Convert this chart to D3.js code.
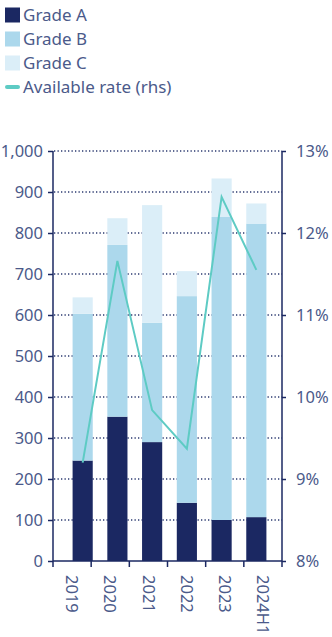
<!DOCTYPE html>
<html>
<head>
<meta charset="utf-8">
<script src="https://cdn.jsdelivr.net/npm/d3@7"></script>
<style>
  body { margin: 0; background: #fff; }
  svg text { font-family: "Noto Sans", sans-serif; fill: #4b5a8a; }
</style>
</head>
<body>
<div id="chart"></div>
<script>
// data
var periods = ["2019", "2020", "2021", "2022", "2023", "2024H1"];
var gradeA = [245, 352, 290, 142, 100, 107];
var gradeB = [358, 419, 291, 504, 739, 716];
var gradeC = [40, 65, 287, 61, 94, 49];
var availableRate = [9.2, 11.66, 9.84, 9.37, 12.44, 11.55];
var leftTicks = [0, 100, 200, 300, 400, 500, 600, 700, 800, 900, 1000];
var rightTicks = [8, 9, 10, 11, 12, 13];

var colors = {A: "#1b2862", B: "#acd8ec", C: "#dbeef8", line: "#5ecbc4", axis: "#1b2862"};

var svg = d3.select("#chart").append("svg").attr("width", 332).attr("height", 637);

var plotLeft = 53, plotRight = 282, plotTop = 151, plotBottom = 561;

var y = d3.scaleLinear().domain([0, 1000]).range([plotBottom, plotTop]);
var yR = d3.scaleLinear().domain([8, 13]).range([plotBottom, plotTop]);
var xAxisScale = d3.scaleBand().domain(periods).range([plotLeft, plotRight]);
var x = d3.scaleBand().domain(periods).range([58, 281]).padding(0.42);

// gridlines
svg.append("g").selectAll("line").data(leftTicks.filter(d => d > 0)).enter().append("line")
    .attr("x1", plotLeft + 1).attr("x2", plotRight).attr("y1", d => y(d)).attr("y2", d => y(d))
    .attr("stroke", "#2b3a70").attr("stroke-width", 1.3).attr("stroke-dasharray", "1.3,2.2");

// stacked bars
var stacked = periods.map((p, i) => ({p: p, A: gradeA[i], B: gradeB[i], C: gradeC[i]}));
var series = d3.stack().keys(["A", "B", "C"])(stacked);
svg.append("g").selectAll("g").data(series).enter().append("g")
    .attr("fill", s => colors[s.key])
    .selectAll("rect").data(s => s).enter().append("rect")
    .attr("x", d => x(d.data.p)).attr("width", x.bandwidth())
    .attr("y", d => y(d[1])).attr("height", d => y(d[0]) - y(d[1]));

// rate line
var line = d3.line().x((d, i) => x(periods[i]) + x.bandwidth() / 2).y(d => yR(d));
svg.append("path").datum(availableRate).attr("d", line)
    .attr("fill", "none").attr("stroke", colors.line).attr("stroke-width", 2).attr("stroke-linejoin", "miter");

// left axis
var gl = svg.append("g").attr("transform", `translate(${plotLeft},0)`)
    .call(d3.axisLeft(y).tickValues(leftTicks).tickFormat(d3.format(",")).tickSize(5).tickPadding(5));
// right axis
var gr = svg.append("g").attr("transform", `translate(${plotRight},0)`)
    .call(d3.axisRight(yR).tickValues(rightTicks).tickFormat(d => d + "%").tickSize(4).tickPadding(10));
[gl, gr].forEach(g => {
    g.select(".domain").attr("stroke", colors.axis).attr("stroke-width", 1.5)
        .attr("d", `M0,${plotTop}V${plotBottom + 6}`);
    g.selectAll(".tick line").attr("stroke", colors.axis).attr("stroke-width", 1.5);
    g.selectAll(".tick text").style("font-size", "16.5px").attr("fill", "#4b5a8a");
});

// bottom axis
var gb = svg.append("g");
gb.append("line").attr("x1", plotLeft).attr("x2", plotRight).attr("y1", plotBottom).attr("y2", plotBottom)
    .attr("stroke", colors.axis).attr("stroke-width", 1.5);
gb.selectAll(".tk").data(periods.slice(1)).enter().append("line")
    .attr("x1", d => xAxisScale(d)).attr("x2", d => xAxisScale(d))
    .attr("y1", plotBottom).attr("y2", plotBottom + 6)
    .attr("stroke", colors.axis).attr("stroke-width", 1.5);
gb.selectAll("text").data(periods).enter().append("text")
    .attr("transform", d => `translate(${xAxisScale(d) + xAxisScale.bandwidth() / 2},575) rotate(90)`)
    .attr("dy", "0.35em").attr("text-anchor", "start").style("font-size", "16.5px")
    .text(d => d);

// legend
var legendItems = [
    {label: "Grade A", color: colors.A, type: "box"},
    {label: "Grade B", color: colors.B, type: "box"},
    {label: "Grade C", color: colors.C, type: "box"},
    {label: "Available rate (rhs)", color: colors.line, type: "line"}
];
var lg = svg.append("g").selectAll("g").data(legendItems).enter().append("g")
    .attr("transform", (d, i) => `translate(0,${15 + i * 24})`);
lg.filter(d => d.type == "box").append("rect")
    .attr("x", 5).attr("y", -7.5).attr("width", 15).attr("height", 15).attr("fill", d => d.color);
lg.filter(d => d.type == "line").append("line")
    .attr("x1", 7).attr("x2", 18).attr("y1", 0).attr("y2", 0)
    .attr("stroke", d => d.color).attr("stroke-width", 4).attr("stroke-linecap", "round");
lg.append("text").attr("x", 23).attr("y", 6).style("font-size", "17px").text(d => d.label);
</script>
</body>
</html>
